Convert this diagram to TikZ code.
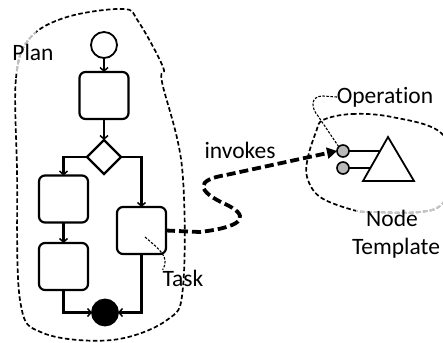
\documentclass[tikz,border=0pt]{standalone}
\usepackage{fontspec}
\setmainfont{Carlito}[Ligatures={NoCommon}]
\usetikzlibrary{arrows.meta,shapes.geometric}
\begin{document}
\begin{tikzpicture}[x=1pt,y=-1pt,
  every node/.style={inner sep=0pt,outer sep=0pt},
  lbl/.style={font=\fontsize{23.5}{27}\selectfont},
  act/.style={draw,line width=2.2pt,rounded corners=6pt,minimum width=49pt,minimum height=47pt},
  startc/.style={draw,circle,line width=1.8pt,minimum size=26pt},
  endc/.style={draw,circle,fill=black,line width=1.8pt,minimum size=26pt},
  decision/.style={draw,diamond,line width=2.2pt,minimum width=34pt,minimum height=34pt},
  flow/.style={line width=2.2pt,-{Straight Barb[length=3.5pt,width=8pt,line width=1.5pt]}},
  blob/.style={draw,line width=1.7pt,dash pattern=on 4.5pt off 2.5pt},
  leader/.style={line width=1.1pt,dash pattern=on 2.5pt off 1.5pt},
  invoke/.style={line width=3.8pt,dash pattern=on 9pt off 4pt,-{Triangle[length=10pt,width=11pt]}},
  port/.style={draw,circle,fill=gray!55,line width=1.6pt,minimum size=12pt}]
\useasboundingbox (0,0) rectangle (443,342);
\clip (0,0) rectangle (443,342);

% plan boundary
\def\planblob{plot[smooth cycle,tension=0.6] coordinates {(17,170) (16,78) (30,38) (67,17) (123,9) (138,21) (163,67) (162,82) (182,167) (183,287) (167,320) (112,340) (43,333) (20,300)}}
\draw[blob] \planblob;
\begin{scope}
  \clip (0,0) rectangle (36,74);
  \draw[blob,white] \planblob;
  \draw[blob,gray!50] \planblob;
\end{scope}

% node template boundary
\def\tplblob{plot[smooth cycle,tension=0.6] coordinates {(323,120) (352,114) (392,117) (440,132) (458,170) (443,203) (420,212) (373,212) (353,210) (320,197) (307,177) (308,157) (316,132)}}
\draw[blob] \tplblob;
\begin{scope}
  \clip (356,200) rectangle (443,342);
  \draw[blob,white] \tplblob;
  \draw[blob,gray!45] \tplblob;
\end{scope}

% workflow
\node[startc] (s) at (104,45) {};
\node[act] (b1) at (104,95.5) {};
\node[decision] (d) at (104,157) {};
\node[act] (b2) at (63.5,199) {};
\node[act] (b3) at (63.5,266.5) {};
\node[act] (b4) at (141.5,230.5) {};
\node[endc] (e) at (105,312.5) {};

\draw[flow] (s) -- (b1);
\draw[flow] (b1) -- (d);
\draw[flow] (d.west) -| (b2.north);
\draw[flow] (b2) -- (b3);
\draw[flow] (d.east) -| (b4.north);
\draw[flow] (b3.south) |- (e.west);
\draw[flow] (b4.south) |- (e.east);

% node template
\node[port] (op1) at (343,151) {};
\node[port] (op2) at (343,168) {};
\coordinate (tA) at (388,137);
\coordinate (tB) at (363,181);
\coordinate (tC) at (414,181);
\draw[line width=1.8pt,line join=miter] (tA) -- (tB) -- (tC) -- cycle;
\coordinate (k1) at (380,151);
\coordinate (k2) at (370.4,168);
\draw[line width=1.8pt] (op1.east) -- (k1);
\draw[line width=1.8pt] (op2.east) -- (k2);

% labels
\node[lbl] (plan) at (33,52) {Plan};
\node[lbl] (inv) at (240,150) {invokes};
\node[lbl] (opl) at (385,97) {Operation};
\node[lbl] (nd) at (392,218) {Node};
\node[lbl] (tpl) at (396,248) {Template};
\node[lbl] (task) at (183,278) {Task};

% leaders
\coordinate (tk) at (145,237);
\draw[leader] (tk) .. controls (160,250) and (170,257) .. (task.north west);
\draw[leader] (opl.west) -- (323,96) .. controls (310,96) and (311,108) .. (318,116) -- (op1.north west);

% invocation
\draw[invoke] (b4.east) -- (200,232) .. controls (250,226) and (247,214) .. (225,204)
  .. controls (197,191) and (195,180) .. (226,175) -- (op1.west);
\end{tikzpicture}
\end{document}
